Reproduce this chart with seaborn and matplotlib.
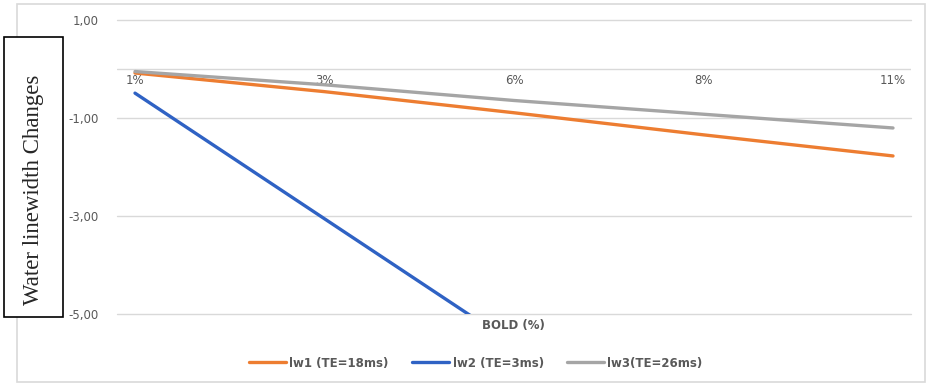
import matplotlib
matplotlib.use('Agg')
from matplotlib import pyplot as plt
from matplotlib.patches import Rectangle
import seaborn as sns
import pandas as pd

bold_levels = ['1%', '3%', '6%', '8%', '11%']
lw1 = [-0.09, -0.47, -0.90, -1.35, -1.78]
lw2 = [-0.50, -3.06, -5.62, -8.18, -10.74]
lw3 = [-0.06, -0.33, -0.65, -0.93, -1.21]
series_names = ['lw1 (TE=18ms)', 'lw2 (TE=3ms)', 'lw3(TE=26ms)']
y_ticks = [1, -1, -3, -5]
y_tick_labels = ['1,00', '-1,00', '-3,00', '-5,00']

colors = ['#ED7D31', '#2F62C4', '#A5A5A5']
txt_gray = '#595959'

df = pd.DataFrame({
    'bold': bold_levels * 3,
    'value': lw1 + lw2 + lw3,
    'series': [s for s in series_names for _ in bold_levels],
})

sns.set_style('white')
plt.rcParams['font.family'] = ['DejaVu Sans']

fig = plt.figure(figsize=(9.35, 3.87), dpi=100)
# outer chart border
fig.patches.append(Rectangle((17 / 935, 1 - 382 / 387), (925 - 17) / 935, (382 - 4) / 387,
                             transform=fig.transFigure, fill=False, ec='#D9D9D9', lw=1.2, zorder=0))
ax = fig.add_axes([117 / 935, 1 - 314 / 387, (911 - 117) / 935, (314 - 19.5) / 387])

sns.lineplot(data=df, x='bold', y='value', hue='series', palette=colors, linewidth=2.4,
             sort=False, ax=ax)
ax.set_ylim(-5, 1)
ax.set_xlim(-0.095, 4.095)
ax.set_yticks(y_ticks)
ax.set_yticklabels(y_tick_labels)
ax.yaxis.grid(True, color='#D9D9D9', lw=1)
for gl in ax.get_ygridlines():
    gl.set_clip_on(False)
ax.axhline(0, color='#D9D9D9', lw=1, zorder=0.5)
ax.set_axisbelow(True)
for s in ax.spines.values():
    s.set_visible(False)
ax.spines['bottom'].set_position(('data', 0))
ax.tick_params(axis='both', length=0, colors=txt_gray, labelsize=8.5)
ax.tick_params(axis='y', pad=13)
ax.tick_params(axis='x', pad=4)
ax.set_xlabel('')
ax.set_ylabel('')

fig.text(513 / 935, 1 - 326 / 387, 'BOLD (%)', ha='center', va='center', fontsize=8.5,
         fontweight='bold', color=txt_gray)

handles, labels = ax.get_legend_handles_labels()
ax.get_legend().remove()
leg = fig.legend(handles, labels, loc='center', bbox_to_anchor=(476 / 935, 1 - 363 / 387), ncol=3,
                 frameon=False, fontsize=8.5, handlelength=3.1, columnspacing=2.0, handletextpad=0.3)
for t in leg.get_texts():
    t.set_color(txt_gray)
    t.set_fontweight('semibold')

# boxed y label
fig.patches.append(Rectangle((3.5 / 935, 1 - 317 / 387), 59.5 / 935, 280 / 387,
                             transform=fig.transFigure, fc='white', ec='black', lw=1.2, zorder=3))
fig.text(34 / 935, 1 - 190 / 387, 'Water linewidth Changes', rotation=90, ha='center', va='center',
         fontsize=16.5, family=['Liberation Serif', 'DejaVu Serif'], zorder=4)

fig.savefig('out.png', dpi=100)
